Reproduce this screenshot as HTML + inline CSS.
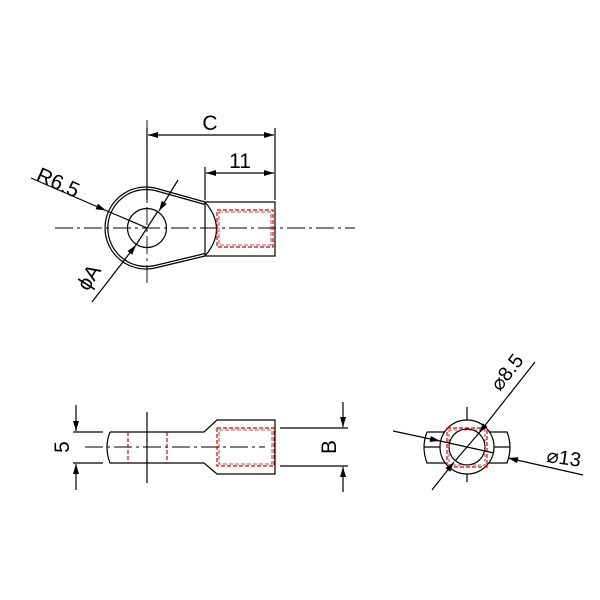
<!DOCTYPE html>
<html><head><style>body{margin:0;background:#fff}svg{display:block}text{font-family:"Liberation Sans",sans-serif;fill:#000}</style></head>
<body>
<svg width="600" height="600" viewBox="0 0 600 600" xmlns="http://www.w3.org/2000/svg">
<defs>
<marker id="a" viewBox="0 0 10 6" refX="10" refY="3" markerWidth="11" markerHeight="6" orient="auto-start-reverse" markerUnits="userSpaceOnUse"><path d="M0,0L10,3L0,6z" fill="#000"/></marker>
</defs>
<g fill="none" stroke="#000" stroke-width="1.2">
<!-- top view -->
<line x1="55" y1="228" x2="355" y2="228" stroke-dasharray="18,4,3,4" stroke-width="0.9"/>
<line x1="147" y1="120" x2="147" y2="285" stroke-dasharray="18,4,3,4" stroke-width="0.9"/>
<circle cx="147" cy="228" r="19.5"/>
<path d="M205,202 L155,188 A41,41 0 1 0 155,268 L205,256"/>
<path d="M205,204.5 L155,190.5 A38.5,38.5 0 1 0 155,265.5 L205,253.5"/>
<rect x="205" y="202" width="70" height="54"/>
<path d="M205,202 Q228,229 205,256"/>
<rect x="217" y="210" width="56" height="37" stroke="#d00" stroke-dasharray="4,2"/>
<rect x="219" y="212" width="52" height="33" stroke="#d00" stroke-dasharray="4,2" stroke-width="0.8"/>
<line x1="147" y1="128" x2="147" y2="200"/>
<line x1="275" y1="128" x2="275" y2="200"/>
<line x1="205" y1="167" x2="205" y2="200"/>
<line x1="148" y1="135" x2="274" y2="135" marker-start="url(#a)" marker-end="url(#a)"/>
<line x1="206" y1="173" x2="274" y2="173" marker-start="url(#a)" marker-end="url(#a)"/>
<line x1="31" y1="178" x2="106" y2="210.5" marker-end="url(#a)"/>
<line x1="106" y1="210.5" x2="147" y2="228"/>
<line x1="92" y1="302" x2="136" y2="245" marker-end="url(#a)"/>
<line x1="136" y1="245" x2="158" y2="211"/>
<line x1="178" y1="180" x2="159" y2="211" marker-end="url(#a)"/>
<!-- side view -->
<line x1="85" y1="447" x2="265" y2="447" stroke-dasharray="18,4,3,4" stroke-width="0.9"/>
<line x1="147" y1="412" x2="147" y2="483"/>
<path d="M110,432 L204,432 L217,420 L275,420 L275,474 L217,474 L204,463 L110,463 Q104,447 110,432"/>
<rect x="217" y="428" width="57" height="38" stroke="#d00" stroke-dasharray="4,2"/>
<rect x="219" y="430" width="53" height="34" stroke="#d00" stroke-dasharray="4,2" stroke-width="0.8"/>
<line x1="128" y1="432" x2="128" y2="463" stroke="#d00" stroke-dasharray="4,2"/>
<line x1="167" y1="432" x2="167" y2="463" stroke="#d00" stroke-dasharray="4,2"/>
<line x1="73" y1="432" x2="103" y2="432"/>
<line x1="73" y1="463" x2="103" y2="463"/>
<line x1="76" y1="405" x2="76" y2="431" marker-end="url(#a)"/>
<line x1="76" y1="490" x2="76" y2="464" marker-end="url(#a)"/>
<line x1="280" y1="428" x2="348" y2="428"/>
<line x1="280" y1="466" x2="348" y2="466"/>
<line x1="343" y1="402" x2="343" y2="427" marker-end="url(#a)"/>
<line x1="343" y1="492" x2="343" y2="467" marker-end="url(#a)"/>
<!-- end view -->
<line x1="467" y1="407" x2="467" y2="482"/>
<path d="M427,432 L507,432 Q513,447 507,463 L427,463 Q421,447 427,432"/>
<line x1="424" y1="447" x2="510" y2="447"/>
<circle cx="467" cy="447" r="27" fill="#fff"/>
<circle cx="467" cy="447" r="18"/>
<rect x="447" y="428" width="40" height="39" stroke="#d00" stroke-dasharray="4,2"/>
<rect x="449" y="430" width="36" height="35" stroke="#d00" stroke-dasharray="3,2" stroke-width="0.8"/>
<line x1="535" y1="362" x2="479" y2="433" marker-end="url(#a)"/>
<line x1="479" y1="433" x2="455" y2="461"/>
<line x1="432" y1="490" x2="454" y2="462" marker-end="url(#a)"/>
<line x1="393" y1="431" x2="440" y2="441" marker-end="url(#a)"/>
<line x1="440" y1="441" x2="494" y2="453"/>
<line x1="583" y1="475" x2="508" y2="458" marker-end="url(#a)"/>
</g>
<text x="210" y="130" font-size="21" text-anchor="middle">C</text>
<text x="240" y="168" font-size="21" text-anchor="middle">11</text>
<text x="0" y="0" font-size="21" transform="translate(35,180) rotate(24)">R6.5</text>
<text x="0" y="0" font-size="21" transform="translate(88,292) rotate(-58)">ϕA</text>
<text x="0" y="0" font-size="21" transform="translate(69,447) rotate(-90)" text-anchor="middle">5</text>
<text x="0" y="0" font-size="21" transform="translate(336,447) rotate(-90)" text-anchor="middle">B</text>
<text x="0" y="0" font-size="20" transform="translate(500,392) rotate(-52)">⌀8.5</text>
<text x="0" y="0" font-size="20" transform="translate(546,462) rotate(8)">⌀13</text>
</svg>
</body></html>
